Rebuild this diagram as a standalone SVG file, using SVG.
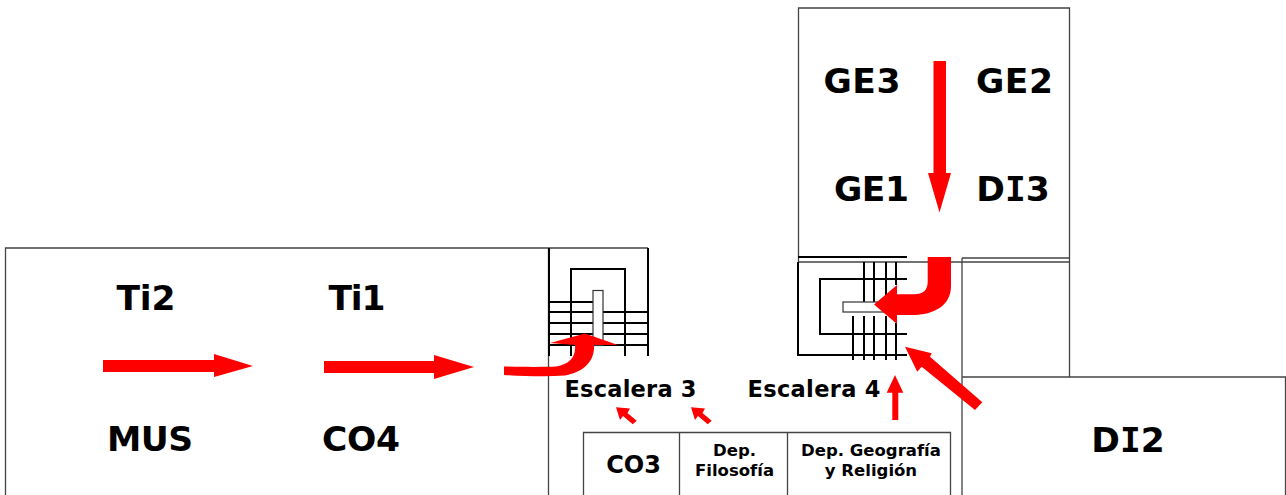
<svg xmlns="http://www.w3.org/2000/svg" width="1286" height="495" viewBox="0 0 1286 495">
<style>
text{font-family:"DejaVu Sans",Verdana,sans-serif;font-weight:bold;fill:#000;text-anchor:middle}
.l{font-size:34.500px}.m{font-size:22.500px}.c{font-size:24px}.s{font-size:16.500px}
.i{font-family:"DejaVu Sans Mono",monospace}
.w{fill:none;stroke:#444;stroke-width:1.300}
.k{fill:none;stroke:#000;stroke-width:2}
.r{fill:#f00;stroke:none}
</style>
<rect width="1286" height="495" fill="#fff"/>
<g id="walls">
<path class="w" d="M5.500 495V248H648M548.500 248V495M798.500 262V8H1069.500V377M798.500 262H1069.500M962 258H1069.500M962 258V495M962 377H1285.500V495"/>
</g>
<g id="table">
<path class="w" d="M583.500 495V432.500H950.500V495M679.500 432.500V495M787.500 432.500V495"/>
</g>
<g id="stair3">
<path class="k" d="M549 248V356M648 248V356M571 356V269H625V356M549 302H593M549 312H593M603 312H648M549 323H593M603 323H648M549 334H593M603 334H648M549 345H648"/>
<rect x="593" y="290.500" width="10" height="55" fill="#fff" stroke="#333" stroke-width="1.200"/>
</g>
<g id="stair4">
<path class="k" d="M798 257H907M798 262V355H907M907 279H820V334H907M853 316V360M864 262V302M864 316V360M874 262V302M874 316V360M886 262V302M886 316V360M896 262V285M896 323V360"/>
<rect x="843" y="302" width="42" height="10" fill="#fff" stroke="#333" stroke-width="1.200"/>
</g>
<g id="connectors">
<path class="r" d="M103 360H214V354L253 366L214 377V372H103Z"/>
<path class="r" d="M324 361H434V355L474 367L434 379V373H324Z"/>
<path class="r" d="M504 366.500C525 367 545 367 556 366.500C570 364 576 357 575 345L550 343L585 333.500L618 345H594C595 360 585 372 565 375.500C545 377 525 376 504 375Z"/>
<path class="r" d="M933.500 61H946V173H951L939.500 212.500L928 173H933.500Z"/>
<path class="r" d="M927.700 257H951V286C951 305 935 315 912 315H897V324L874 304.500L897 285V294.300H914C923 294.300 927.700 290 927.700 282Z"/>
<path class="r" d="M982.300 402.300L930 356.700L931.700 353.300L905 346.700L917.300 371.700L921.700 366.700L975 410Z"/>
<path class="r" d="M892.300 420V392.700H886.700L895 375L903.300 392.700H898.300V420Z"/>
<path class="r" d="M636.700 420.700L627.500 413L630 408.500L616 407.300L620 420L623 416L632.700 424.300Z"/>
<path class="r" d="M711.700 420.700L702.500 413L705 408.500L691 407.300L695 420L698 416L707.700 424.300Z"/>
</g>
<g id="GE3"><text class="l" x="862" y="93" textLength="77">GE3</text></g>
<g id="GE2"><text class="l" x="1014.500" y="93" textLength="77">GE2</text></g>
<g id="GE1"><text class="l" x="871.500" y="201" textLength="75">GE1</text></g>
<g id="DI3"><text class="l" x="1013" y="201">D<tspan class="i">I</tspan>3</text></g>
<g id="Ti2"><text class="l" x="146" y="310" textLength="59">Ti2</text></g>
<g id="Ti1"><text class="l" x="357" y="310" textLength="57">Ti1</text></g>
<g id="MUS"><text class="l" x="150" y="451" textLength="86">MUS</text></g>
<g id="CO4"><text class="l" x="361" y="451" textLength="78">CO4</text></g>
<g id="DI2"><text class="l" x="1128" y="452">D<tspan class="i">I</tspan>2</text></g>
<g id="esc3"><text class="m" x="630.500" y="397" textLength="132">Escalera 3</text></g>
<g id="esc4"><text class="m" x="814" y="397" textLength="133">Escalera 4</text></g>
<g id="CO3"><text class="c" x="633.500" y="473">CO3</text></g>
<g id="depfil"><text class="s" x="734.500" y="456">Dep.</text><text class="s" x="734.500" y="476">Filosofía</text></g>
<g id="depgeo"><text class="s" x="871" y="456">Dep. Geografía</text><text class="s" x="871" y="476">y Religión</text></g>
</svg>
